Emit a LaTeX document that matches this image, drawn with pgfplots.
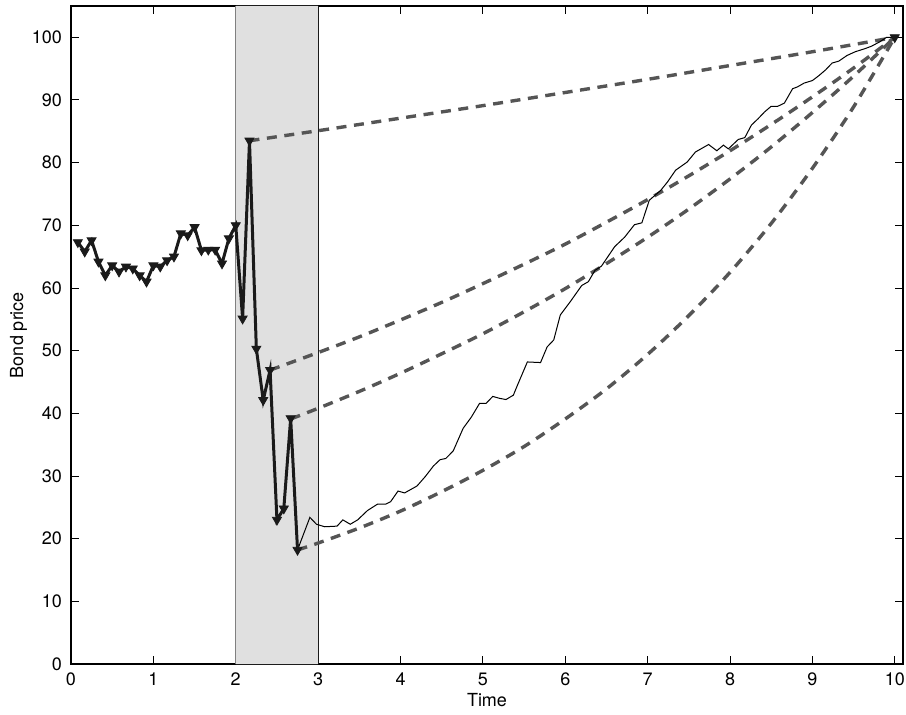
\documentclass[border=0pt]{standalone}
\usepackage{pgfplots}
\pgfplotsset{compat=1.18}
\usepackage{fontspec}
\setmainfont{TeX Gyre Heros}
\usetikzlibrary{calc}
\definecolor{shadegray}{HTML}{E0E0E0}
\definecolor{dashgray}{HTML}{555555}
\definecolor{thickblack}{HTML}{1A1A1A}
\begin{document}
\begin{tikzpicture}
\begin{axis}[name=ax,
  width=416pt, height=329pt, scale only axis,
  xmin=0, xmax=10.1, ymin=0, ymax=105,
  xtick={0,1,...,10}, ytick={0,10,...,100},
  tick align=inside, major tick length=4pt,
  tick style={black, line width=0.5pt},
  axis line style={line width=0.6pt},
  font=\fontsize{9}{11}\selectfont,
  /pgf/number format/assume math mode=true,
  xlabel={Time}, ylabel={Bond price},
  xlabel style={at={(axis description cs:0.5,0)}, anchor=north, yshift=-11pt},
  ylabel style={at={(axis description cs:0,0.5)}, anchor=south, yshift=18.5pt},
  xticklabel style={yshift=-1pt},
  yticklabel style={xshift=-1pt},
  clip=false,
]
% shaded period
\addplot[fill=shadegray, draw=none, forget plot] coordinates {(2,0) (2,105) (3,105) (3,0)} \closedcycle;
\addplot[color=gray, line width=0.6pt, forget plot] coordinates {(2,0) (2,105)};
\addplot[color=thickblack, line width=0.6pt, forget plot] coordinates {(3,0) (3,105)};
% dashed discount curves
\addplot[dashgray, line width=1.7pt, dash pattern=on 5pt off 3.8pt, smooth] coordinates {
(2.1667,83.5) (3,85.1) (4,87.1) (5,89.1) (6,91.2) (7,93.3) (8,95.5) (9,97.7) (10,100)};
\addplot[dashgray, line width=1.7pt, dash pattern=on 5pt off 3.8pt, smooth] coordinates {
(2.4167,46.9) (3,49.7) (3.5,52.2) (4,54.9) (4.5,57.7) (5,60.7) (5.5,63.8) (6,67.0) (6.5,70.5) (7,74.1) (7.5,77.9) (8,81.9) (8.5,86.1) (9,90.5) (9.5,95.1) (10,100)};
\addplot[dashgray, line width=1.7pt, dash pattern=on 5pt off 3.8pt, smooth] coordinates {
(2.6667,39.1) (3,40.8) (3.5,43.5) (4,46.4) (4.5,49.5) (5,52.7) (5.5,56.2) (6,59.9) (6.5,63.9) (7,68.1) (7.5,72.6) (8,77.4) (8.5,82.5) (9,88.0) (9.5,93.8) (10,100)};
\addplot[dashgray, line width=1.7pt, dash pattern=on 5pt off 3.8pt, smooth] coordinates {
(2.75,18.2) (3,19.3) (3.5,21.7) (4,24.4) (4.5,27.5) (5,30.9) (5.5,34.7) (6,39.1) (6.5,43.9) (7,49.4) (7.5,55.6) (8,62.5) (8.5,70.3) (9,79.1) (9.5,88.9) (10,100)};
% thin path after the shock
\addplot[black, line width=0.5pt] coordinates {
(2.75,18.2) (2.90,23.4) (2.98,22.3) (3.08,21.9) (3.23,22.0) (3.30,23.0) (3.39,22.3) (3.48,23.0)
(3.60,24.5) (3.72,25.5) (3.82,25.5) (3.88,25.9) (3.97,27.6) (4.05,27.3) (4.20,28.4) (4.30,29.9)
(4.40,31.6) (4.48,32.6) (4.55,32.8) (4.64,34.0) (4.76,37.6) (4.86,39.4) (4.96,41.6) (5.04,41.6)
(5.12,42.7) (5.20,42.4) (5.28,42.2) (5.37,42.9) (5.42,44.5) (5.54,48.2) (5.70,48.1) (5.78,50.6)
(5.86,51.7) (5.94,55.7) (6.06,57.8) (6.20,60.4) (6.28,61.0) (6.36,62.8) (6.44,63.5) (6.60,66.6)
(6.72,68.1) (6.84,70.1) (6.93,70.4) (7.02,74.0) (7.16,75.6) (7.24,76.9) (7.34,78.8) (7.48,80.1)
(7.58,81.7) (7.74,82.9) (7.84,81.9) (7.92,82.8) (7.98,82.2) (8.10,83.7) (8.18,84.0) (8.26,86.0)
(8.34,87.0) (8.42,88.1) (8.50,89.0) (8.58,89.0) (8.66,89.5) (8.76,91.8) (8.82,92.1) (8.90,92.7)
(9.00,93.1) (9.08,93.9) (9.16,94.8) (9.24,95.9) (9.32,96.2) (9.42,97.1) (9.52,97.7) (9.64,98.2)
(9.72,98.6) (9.82,99.3) (9.90,100.0) (10,100)};
% thick observed path with markers
\addplot[thickblack, line width=1.5pt, mark=triangle*, mark size=2.6pt,
  mark options={rotate=180, solid, fill=thickblack, draw=thickblack, line width=0.4pt}] coordinates {
(0.0833,67.3) (0.1667,65.8) (0.25,67.6) (0.3333,64.2) (0.4167,62.0) (0.5,63.6) (0.5833,62.6)
(0.6667,63.4) (0.75,63.1) (0.8333,62.0) (0.9167,61.0) (1.0,63.6) (1.0833,63.4) (1.1667,64.4)
(1.25,65.0) (1.3333,68.7) (1.4167,68.4) (1.5,69.7) (1.5833,66.0) (1.6667,66.1) (1.75,66.1)
(1.8333,63.9) (1.9167,67.9) (2.0,70.0) (2.0833,55.1) (2.1667,83.5) (2.25,50.3) (2.3333,42.1)
(2.4167,46.9) (2.5,23.0) (2.5833,24.8) (2.6667,39.2) (2.75,18.2)};
\addplot[only marks, mark=triangle*, mark size=2.6pt,
  mark options={rotate=180, fill=thickblack, draw=thickblack}] coordinates {(10,100)};
\end{axis}
\pgfresetboundingbox
\useasboundingbox ($(ax.south west)+(-35.5pt,-25pt)$) rectangle ($(ax.north east)+(1.5pt,3pt)$);
\end{tikzpicture}
\end{document}
